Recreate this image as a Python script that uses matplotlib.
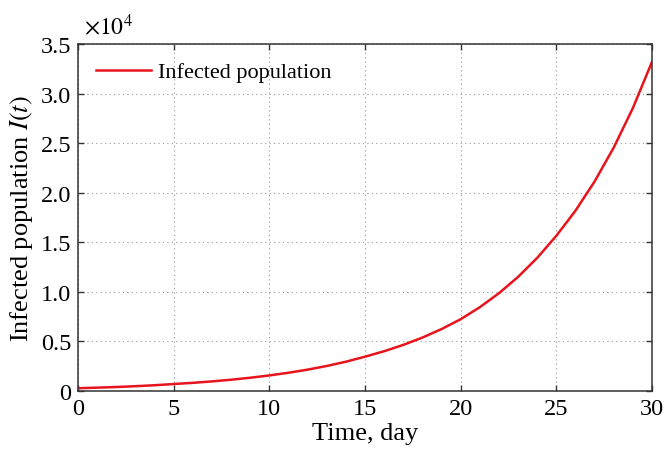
import numpy as np
import matplotlib
matplotlib.use('Agg')
import matplotlib.pyplot as plt
from matplotlib.ticker import FuncFormatter

# Infected population, one value per day
days = list(range(0, 31))
infected = [280, 335, 400, 482, 580, 700, 822, 966, 1135, 1334,
            1570, 1838, 2153, 2521, 2952, 3460, 4010, 4648, 5387, 6243,
            7240, 8449, 9860, 11507, 13428, 15650, 18185, 21131, 24554, 28532,
            33200]
x_ticks = [0, 5, 10, 15, 20, 25, 30]
y_ticks = [0, 5000, 10000, 15000, 20000, 25000, 30000, 35000]

plt.rcParams['font.family'] = ['Liberation Serif', 'DejaVu Serif']
plt.rcParams['mathtext.fontset'] = 'stix'

fig = plt.figure(figsize=(6.67, 4.56), dpi=100)
ax = fig.add_axes([0.117, 0.1404, 0.8605, 0.7609])

ax.plot(days, infected, color='#e8141c', linewidth=1.8, label='Infected population')

ax.set_xlim(0, 30)
ax.set_ylim(0, 35000)
ax.set_xticks(x_ticks)
ax.set_yticks(y_ticks)
ax.yaxis.set_major_formatter(FuncFormatter(lambda v, p: '0' if v == 0 else f'{v / 1e4:.1f}'))

ax.grid(True, linestyle=(0, (1, 3)), color='#999999', linewidth=0.8)
ax.tick_params(direction='in', top=True, right=True, length=4, width=1,
               colors='#333333', labelcolor='black', labelsize=17.5, pad=5)
for s in ax.spines.values():
    s.set_color('#333333')
    s.set_linewidth(1.1)

ax.set_xlabel('Time, day', fontsize=19, labelpad=2)
ax.set_ylabel('Infected population $I(t)$', fontsize=19, labelpad=4)
ax.text(0.01, 1.015, r'$\times 10^4$', transform=ax.transAxes, fontsize=17,
        ha='left', va='bottom')

ax.legend(loc='upper left', frameon=False, fontsize=16, handlelength=2.5,
          handletextpad=0.3, borderaxespad=0.4, bbox_to_anchor=(0.0, 1.0))

fig.savefig('out.png', dpi=100)
